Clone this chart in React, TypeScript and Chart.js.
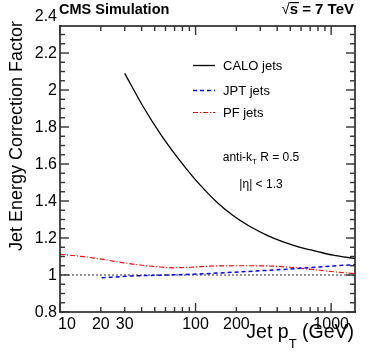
import React, { useEffect, useRef } from 'react';
import { Chart, registerables } from 'chart.js';

Chart.register(...registerables);

// ---- data ----
const caloPt = [30, 41, 55, 73, 96, 124, 143, 190, 252, 334, 443, 589, 782, 1036, 1500];
const caloCorr = [2.09, 1.911, 1.763, 1.638, 1.529, 1.44, 1.395, 1.32, 1.262, 1.216, 1.179, 1.15, 1.128, 1.107, 1.089];

const jptPt = [20.3, 34.7, 61, 102, 190, 334, 589, 1036, 1500];
const jptCorr = [0.985, 0.995, 1.0, 1.005, 1.015, 1.025, 1.036, 1.049, 1.056];

const pfPt = [10, 14.9, 22.1, 29.3, 38.9, 51.6, 68.5, 91, 143, 225, 334, 497, 782, 1097, 1500];
const pfCorr = [1.112, 1.099, 1.081, 1.066, 1.054, 1.045, 1.039, 1.042, 1.049, 1.05, 1.049, 1.042, 1.027, 1.016, 1.007];

const refPt = [10, 1500];
const refCorr = [1, 1];

const yTicks = [0.8, 1, 1.2, 1.4, 1.6, 1.8, 2, 2.2, 2.4];
const yTickLabels = ['0.8', '1', '1.2', '1.4', '1.6', '1.8', '2', '2.2', '2.4'];
const xLabelValues = [10, 20, 30, 100, 200, 1000];
const xLabels = ['10', '20', '30', '100', '200', '1000'];

const legendLabels = ['CALO jets', 'JPT jets', 'PF jets'];

const FONT = "'Liberation Sans', Arial, Helvetica, sans-serif";

function pts(xs: number[], ys: number[]) {
  return xs.map((x, i) => ({ x, y: ys[i] }));
}

const LW = 1.4; // frame / tick line thickness

const framePlugin = {
  id: 'rootFrame',
  afterDraw(chart: any) {
    const ctx: CanvasRenderingContext2D = chart.ctx;
    const xs = chart.scales.x;
    const ys = chart.scales.y;
    const a = chart.chartArea;
    const L = a.left, R = a.right, T = a.top, B = a.bottom;
    const h = LW / 2;
    ctx.save();
    ctx.fillStyle = '#000';
    // frame
    ctx.fillRect(L - h, T - h, LW, B - T + LW);
    ctx.fillRect(R - h, T - h, LW, B - T + LW);
    ctx.fillRect(L - h, T - h, R - L + LW, LW);
    ctx.fillRect(L - h, B - h, R - L + LW, LW);

    // y ticks
    ctx.fillStyle = '#333';
    for (let i = 0; i <= 40; i++) {
      const v = 0.8 + i * 0.05;
      if (v > ys.max + 1e-6) break;
      const y = ys.getPixelForValue(v);
      const len = i % 4 === 0 ? 9 : 5;
      ctx.fillRect(L, y - h, len, LW);
      ctx.fillRect(R - len, y - h, len, LW);
    }
    // x ticks
    for (let dec = 10; dec <= 1000; dec *= 10) {
      for (let k = 1; k <= 9; k++) {
        const v = dec * k;
        if (v > 1500) break;
        const x = xs.getPixelForValue(v);
        const len = k === 1 ? 9 : 5;
        ctx.fillRect(x - h, B - len, LW, len);
        ctx.fillRect(x - h, T, LW, len);
      }
    }
    ctx.fillStyle = '#000';

    // y labels
    ctx.font = `16px ${FONT}`;
    ctx.textAlign = 'right';
    ctx.textBaseline = 'middle';
    yTicks.forEach((v, i) => {
      ctx.fillText(yTickLabels[i], L - 3, ys.getPixelForValue(v) + 1);
    });
    // x labels
    ctx.textBaseline = 'alphabetic';
    xLabelValues.forEach((v, i) => {
      const x = xs.getPixelForValue(v);
      ctx.textAlign = i === 0 ? 'left' : 'center';
      ctx.fillText(xLabels[i], i === 0 ? x - 2 : x, 328.5);
    });

    // x title: Jet p_T (GeV), right-aligned
    const big = `19.5px ${FONT}`;
    const small = `13px ${FONT}`;
    ctx.font = big;
    const w1 = ctx.measureText('Jet p').width;
    const w3 = ctx.measureText(' (GeV)').width;
    ctx.font = small;
    const w2 = ctx.measureText('T').width;
    const xEnd = 354;
    let cx = xEnd - (w1 + w2 + w3);
    ctx.textAlign = 'left';
    ctx.font = big;
    ctx.fillText('Jet p', cx, 337.5);
    cx += w1;
    ctx.font = small;
    ctx.fillText('T', cx, 348);
    cx += w2;
    ctx.font = big;
    ctx.fillText(' (GeV)', cx, 337.5);

    // y title
    ctx.save();
    ctx.translate(21.5, 21);
    ctx.rotate(-Math.PI / 2);
    ctx.textAlign = 'right';
    ctx.font = `18px ${FONT}`;
    ctx.fillText('Jet Energy Correction Factor', 0, 0);
    ctx.restore();

    // header
    ctx.font = `bold 14.5px ${FONT}`;
    ctx.textAlign = 'left';
    ctx.fillText('CMS Simulation', 59, 14);
    ctx.font = `bold 15px ${FONT}`;
    ctx.textAlign = 'right';
    const rest = 's = 7 TeV';
    ctx.fillText(rest, 354, 14);
    const rw = ctx.measureText(rest).width;
    const sw = ctx.measureText('s').width;
    const sx = 354 - rw;
    ctx.font = `15px ${FONT}`;
    ctx.fillText('\u221A', sx, 14);
    ctx.fillRect(sx, 2, sw + 1, 1.2);

    // legend
    const legY = [65, 90, 112];
    const styles = [
      { c: '#000', d: [] as number[], w: 1.3 },
      { c: '#0000ff', d: [4, 3], w: 1.5 },
      { c: '#ff0000', d: [5, 2, 1, 2], w: 1.2 },
    ];
    ctx.font = `13px ${FONT}`;
    ctx.textAlign = 'left';
    ctx.textBaseline = 'middle';
    legendLabels.forEach((lab, i) => {
      const s = styles[i];
      ctx.beginPath();
      ctx.strokeStyle = s.c;
      ctx.lineWidth = s.w;
      ctx.setLineDash(s.d);
      ctx.moveTo(193, legY[i] + 0.5);
      ctx.lineTo(215, legY[i] + 0.5);
      ctx.stroke();
      ctx.setLineDash([]);
      ctx.fillStyle = '#000';
      ctx.fillText(lab, 223, legY[i] + 1);
    });

    // annotations
    const f12 = `12px ${FONT}`;
    const f8 = `8px ${FONT}`;
    ctx.font = f12;
    const a1 = ctx.measureText('anti-k').width;
    const a3 = ctx.measureText(' R = 0.5').width;
    ctx.font = f8;
    const a2 = ctx.measureText('T').width;
    let ax = 261 - (a1 + a2 + a3) / 2;
    ctx.textBaseline = 'alphabetic';
    ctx.font = f12;
    ctx.fillText('anti-k', ax, 161);
    ax += a1;
    ctx.font = f8;
    ctx.fillText('T', ax, 164);
    ax += a2;
    ctx.font = f12;
    ctx.fillText(' R = 0.5', ax, 161);
    ctx.textAlign = 'center';
    ctx.fillText('|\u03B7| < 1.3', 261, 188);
    ctx.restore();
  },
};

export default function App() {
  const ref = useRef<HTMLCanvasElement>(null);
  useEffect(() => {
    if (!ref.current) return;
    const chart = new Chart(ref.current, {
      type: 'line',
      data: {
        datasets: [
          {
            label: legendLabels[0],
            data: pts(caloPt, caloCorr),
            borderColor: '#000',
            borderWidth: 1.3,
            pointRadius: 0,
            cubicInterpolationMode: 'monotone',
          },
          {
            label: legendLabels[1],
            data: pts(jptPt, jptCorr),
            borderColor: '#0000ff',
            borderWidth: 1.5,
            borderDash: [4, 3],
            pointRadius: 0,
            cubicInterpolationMode: 'monotone',
          },
          {
            label: legendLabels[2],
            data: pts(pfPt, pfCorr),
            borderColor: '#ff0000',
            borderWidth: 1.2,
            borderDash: [5, 2, 1, 2],
            pointRadius: 0,
            cubicInterpolationMode: 'monotone',
          },
          {
            label: 'ref',
            data: pts(refPt, refCorr),
            borderColor: '#000',
            borderWidth: 0.8,
            borderDash: [2, 2],
            pointRadius: 0,
          },
        ],
      },
      options: {
        responsive: false,
        animation: false,
        layout: { padding: { left: 60, top: 26, right: 19, bottom: 47 } },
        plugins: { legend: { display: false }, tooltip: { enabled: false } },
        scales: {
          x: { type: 'logarithmic', min: 10, max: 1500, display: false },
          y: { type: 'linear', min: 0.8, max: 2.346, display: false },
        },
      },
      plugins: [framePlugin],
    });
    return () => chart.destroy();
  }, []);
  return (
    <div style={{ position: 'fixed', left: 0, top: 0, width: 374, height: 359, background: '#fff' }}>
      <canvas ref={ref} width={374} height={359} style={{ display: 'block', width: 374, height: 359 }} />
    </div>
  );
}
